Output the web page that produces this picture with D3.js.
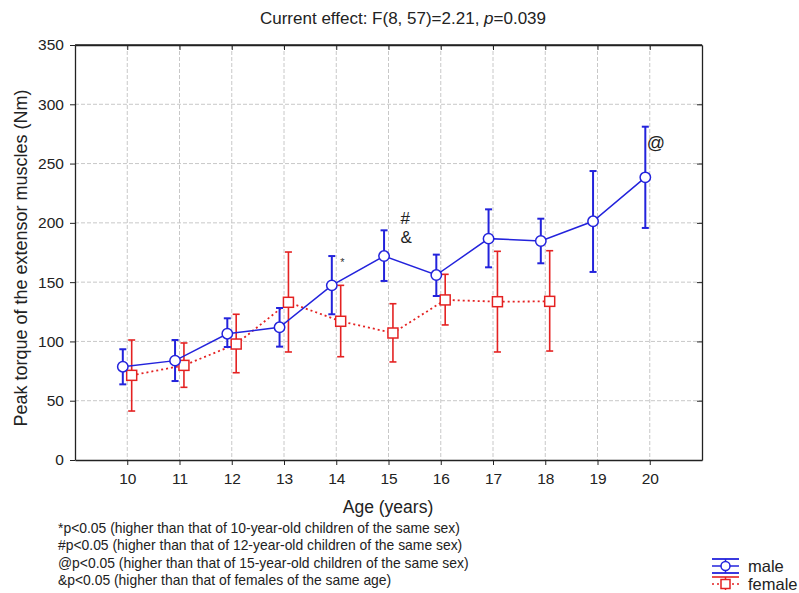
<!DOCTYPE html>
<html><head><meta charset="utf-8">
<script src="https://cdn.jsdelivr.net/npm/d3@7"></script>
<style>body{margin:0;background:#fff}svg{font-family:"Liberation Sans",Arial,sans-serif}</style>
</head><body>
<svg id="c" width="799" height="593"></svg>
<script>
const ages = [10,11,12,13,14,15,16,17,18,19,20];
const maleMean = [78.7,83.8,106.5,111.9,147.3,172,156,186.7,184.7,201.3,238.4];
const maleHi   = [93.4,101.2,119.5,128.2,172,193.7,173.2,211.4,203.5,243.7,281.1];
const maleLo   = [63.8,66.6,95.3,95.6,122.9,151,138.3,162.5,165.9,158.6,195.7];
const femAges  = [10,11,12,13,14,15,16,17,18];
const femMean  = [71.4,79.8,97.8,133,117,107.1,135,133.5,133.8];
const femHi    = [101.2,98.7,122.9,175.4,147.3,131.8,156.6,176,176.5];
const femLo    = [41.3,61.3,73.6,91.1,87.1,82.7,113.9,91.1,91.9];
const yTicks = [0,50,100,150,200,250,300,350];
const footnotes = ["*p<0.05 (higher than that of 10-year-old children of the same sex)",
 "#p<0.05 (higher than that of 12-year-old children of the same sex)",
 "@p<0.05 (higher than that of 15-year-old children of the same sex)",
 "&p<0.05 (higher than that of females of the same age)"];

const svg = d3.select("#c");
const L=75,R=702,T=45,B=460;
const x = d3.scaleLinear().domain([9,21]).range([L,R]);
const y = d3.scaleLinear().domain([0,350]).range([B,T]);
const blue="#2323dc", red="#e42222";
const off=0.085;

// grid
const g = svg.append("g");
g.selectAll(".gx").data(ages).join("line").attr("x1",d=>x(d)).attr("x2",d=>x(d)).attr("y1",T).attr("y2",B)
 .attr("stroke","#c8c8c8").attr("stroke-dasharray","4,2").attr("stroke-width",1);
g.selectAll(".gy").data(yTicks.slice(1,-1)).join("line").attr("y1",d=>y(d)).attr("y2",d=>y(d)).attr("x1",L).attr("x2",R)
 .attr("stroke","#c8c8c8").attr("stroke-dasharray","4,2").attr("stroke-width",1);

// axes
const ax = svg.append("g").attr("transform",`translate(0,${B})`).call(d3.axisBottom(x).tickValues(ages).tickSize(5).tickSizeOuter(0));
const ay = svg.append("g").attr("transform",`translate(${L},0)`).call(d3.axisLeft(y).tickValues(yTicks).tickSize(5).tickSizeOuter(0));
const at = svg.append("g").attr("transform",`translate(0,${T})`).call(d3.axisBottom(x).tickValues(ages).tickSize(5).tickSizeOuter(0).tickFormat(""));
const ar = svg.append("g").attr("transform",`translate(${R},0)`).call(d3.axisLeft(y).tickValues(yTicks).tickSize(5).tickSizeOuter(0).tickFormat(""));
[ax,ay,at,ar].forEach(a=>{a.select(".domain").attr("stroke","#222").attr("stroke-width",1.3);a.selectAll(".tick line").attr("stroke","#222");});
ax.selectAll("text").attr("font-size",15.5).attr("fill","#222").attr("dy","1.05em");
ay.selectAll("text").attr("font-size",15.5).attr("fill","#222").attr("dx","-0.2em");
svg.append("line").attr("x1",L).attr("x2",R).attr("y1",T).attr("y2",T).attr("stroke","#222").attr("stroke-width",1.3);

// female
const fg = svg.append("g");
fg.append("path").datum(femAges.map((a,i)=>[a,femMean[i]]))
 .attr("d",d3.line().x(d=>x(d[0]+off)).y(d=>y(d[1]))).attr("fill","none").attr("stroke",red).attr("stroke-width",1.8).attr("stroke-dasharray","2,3");
femAges.forEach((a,i)=>{
  const cx=x(a+off);
  fg.append("line").attr("x1",cx).attr("x2",cx).attr("y1",y(femHi[i])).attr("y2",y(femLo[i])).attr("stroke",red).attr("stroke-width",1.6);
  [femHi[i],femLo[i]].forEach(v=>fg.append("line").attr("x1",cx-3.5).attr("x2",cx+3.5).attr("y1",y(v)).attr("y2",y(v)).attr("stroke",red).attr("stroke-width",1.6));
  fg.append("rect").attr("x",cx-5).attr("y",y(femMean[i])-5).attr("width",10).attr("height",10).attr("fill","#fff").attr("stroke",red).attr("stroke-width",1.5);
});

// male
const mg = svg.append("g");
mg.append("path").datum(ages.map((a,i)=>[a,maleMean[i]]))
 .attr("d",d3.line().x(d=>x(d[0]-off)).y(d=>y(d[1]))).attr("fill","none").attr("stroke",blue).attr("stroke-width",1.5);
ages.forEach((a,i)=>{
  const cx=x(a-off);
  mg.append("line").attr("x1",cx).attr("x2",cx).attr("y1",y(maleHi[i])).attr("y2",y(maleLo[i])).attr("stroke",blue).attr("stroke-width",2);
  [maleHi[i],maleLo[i]].forEach(v=>mg.append("line").attr("x1",cx-3.5).attr("x2",cx+3.5).attr("y1",y(v)).attr("y2",y(v)).attr("stroke",blue).attr("stroke-width",2));
  mg.append("circle").attr("cx",cx).attr("cy",y(maleMean[i])).attr("r",5.2).attr("fill","#fff").attr("stroke",blue).attr("stroke-width",1.5);
});

// annotations
svg.append("text").attr("x",x(14)+4).attr("y",y(172)+10).attr("font-size",11).attr("fill","#333").text("*");
svg.append("text").attr("x",x(15)+12).attr("y",y(193.7)-6).attr("font-size",17).attr("fill","#222").text("#");
svg.append("text").attr("x",x(15)+12).attr("y",y(193.7)+13).attr("font-size",17).attr("fill","#222").text("&");
svg.append("text").attr("x",x(20)-3).attr("y",y(281.1)+22).attr("font-size",18).attr("fill","#222").text("@");

// title
const tt = svg.append("text").attr("x",403).attr("y",24).attr("text-anchor","middle").attr("font-size",17).attr("fill","#222");
tt.append("tspan").text("Current effect: F(8, 57)=2.21, ");
tt.append("tspan").attr("font-style","italic").text("p");
tt.append("tspan").text("=0.039");

// axis labels
svg.append("text").attr("transform","translate(27,258) rotate(-90)").attr("text-anchor","middle").attr("font-size",18).attr("fill","#222").text("Peak torque of the extensor muscles (Nm)");
svg.append("text").attr("x",388).attr("y",513).attr("text-anchor","middle").attr("font-size",17.5).attr("fill","#222").text("Age (years)");

// footnotes
svg.selectAll(".fn").data(footnotes).join("text").attr("x",58).attr("y",(d,i)=>533+i*17.3).attr("font-size",13.9).attr("fill","#222").text(d=>d);

// legend
const lg = svg.append("g");
const ly1=566, ly2=584, lx=712;
lg.append("line").attr("x1",lx).attr("x2",lx+27).attr("y1",ly1).attr("y2",ly1).attr("stroke",blue).attr("stroke-width",1.5);
[ly1-7,ly1+7].forEach(v=>lg.append("line").attr("x1",lx).attr("x2",lx+27).attr("y1",v).attr("y2",v).attr("stroke",blue).attr("stroke-width",1.8));
lg.append("line").attr("x1",lx+13.5).attr("x2",lx+13.5).attr("y1",ly1-7).attr("y2",ly1+7).attr("stroke",blue).attr("stroke-width",1.5);
lg.append("circle").attr("cx",lx+13.5).attr("cy",ly1).attr("r",4.5).attr("fill","#fff").attr("stroke",blue).attr("stroke-width",1.5);
lg.append("line").attr("x1",lx).attr("x2",lx+27).attr("y1",ly2-7).attr("y2",ly2-7).attr("stroke",red).attr("stroke-width",1.6);
lg.append("line").attr("x1",lx).attr("x2",lx+27).attr("y1",ly2).attr("y2",ly2).attr("stroke",red).attr("stroke-width",1.6).attr("stroke-dasharray","2,3");
lg.append("line").attr("x1",lx+13.5).attr("x2",lx+13.5).attr("y1",ly2-7).attr("y2",ly2+6).attr("stroke",red).attr("stroke-width",1.5);
lg.append("rect").attr("x",lx+9).attr("y",ly2-4.5).attr("width",9).attr("height",9).attr("fill","#fff").attr("stroke",red).attr("stroke-width",1.5);
lg.append("text").attr("x",lx+36).attr("y",ly1+6).attr("font-size",16.5).attr("fill","#222").text("male");
lg.append("text").attr("x",lx+36).attr("y",ly2+6).attr("font-size",16.5).attr("fill","#222").text("female");
</script>
</body></html>
